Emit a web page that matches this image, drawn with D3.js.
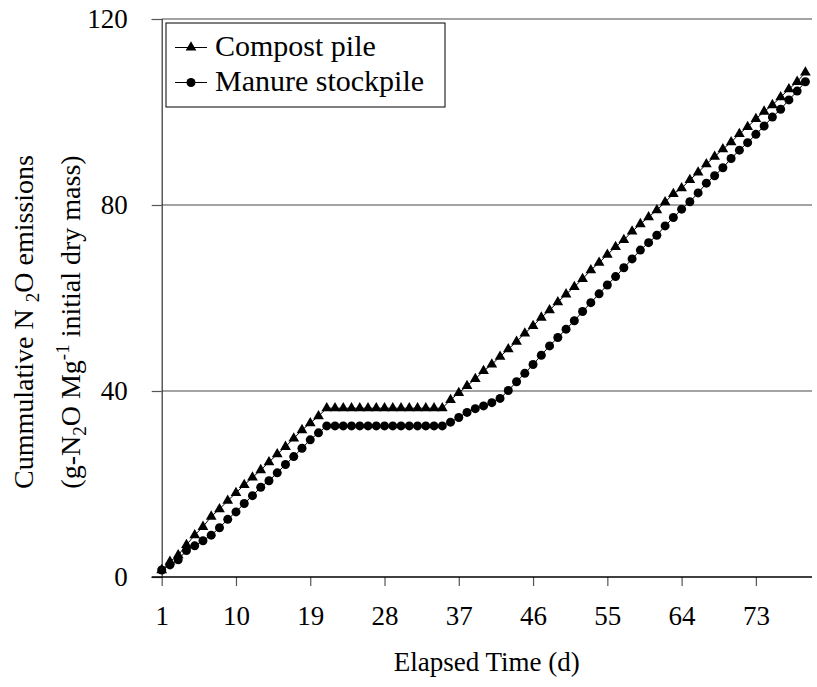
<!DOCTYPE html>
<html><head><meta charset="utf-8">
<script src="https://cdn.jsdelivr.net/npm/d3@7"></script>
</head><body style="margin:0;background:#fff"><svg id="c" width="817" height="687" font-family="Liberation Serif"></svg>
<script>
const days = d3.range(1, 80);
const compost = [1.5,3.3,4.7,6.9,9.0,10.8,13.0,14.6,16.4,18.1,19.8,21.4,23.0,24.7,26.4,28.0,29.8,31.6,33.1,34.6,
 36.3,36.3,36.3,36.3,36.3,36.3,36.3,36.3,36.3,36.3,36.3,36.3,36.3,36.3,36.3,
 38.1,39.6,41.1,42.6,44.3,45.7,47.4,49.0,50.6,52.4,54.0,55.8,57.4,59.1,60.8,62.4,64.1,66.0,67.6,69.3,
 71.0,72.5,74.3,75.9,77.4,78.9,80.6,82.4,83.6,85.4,87.0,88.8,90.4,92.0,93.5,95.3,96.8,98.5,100.1,101.5,103.2,104.9,106.5,108.5];
const manure = [1.5,2.6,3.7,5.7,6.7,7.8,9.0,10.6,12.4,14.0,15.8,17.5,19.3,20.7,22.4,24.2,25.9,27.7,29.5,31.0,
 32.5,32.5,32.5,32.5,32.5,32.5,32.5,32.5,32.5,32.5,32.5,32.5,32.5,32.5,32.5,
 33.3,34.3,35.4,36.2,36.8,37.5,38.4,40.1,42.0,43.8,45.7,47.7,49.7,51.5,53.3,55.1,57.1,59.0,60.9,62.8,
 64.6,66.5,68.4,70.3,71.9,73.5,75.5,77.3,79.1,80.7,82.6,84.7,86.3,88.0,90.0,91.8,93.4,95.2,97.0,98.9,100.6,102.6,104.5,106.5];
const xTicks = [1,10,19,28,37,46,55,64,73];
const yTicks = [0,40,80,120];
const seriesNames = ["Compost pile","Manure stockpile"];

const FF = "Liberation Serif";
const svg = d3.select("#c");
const L = 161.7, R = 812, T = 19, B = 577;
const x = d3.scaleLinear().domain([1, 79.8]).range([L, R]);
const y = d3.scaleLinear().domain([0, 120]).range([B, T]);

svg.append("g").selectAll("line").data(yTicks.filter(v => v > 0)).join("line")
  .attr("x1", L).attr("x2", R).attr("y1", d => y(d)).attr("y2", d => y(d))
  .attr("stroke", "#858585").attr("stroke-width", 1.3);

const yAxis = svg.append("g").attr("transform", `translate(${L},0)`)
  .call(d3.axisLeft(y).tickValues(yTicks).tickSize(10).tickPadding(24));
yAxis.attr("font-family", FF);
yAxis.select(".domain").attr("stroke", "#333").attr("stroke-width", 1.2);
yAxis.selectAll(".tick line").attr("stroke", "#555").attr("stroke-width", 1.2);
yAxis.selectAll("text").attr("font-size", 27).attr("font-family", FF).attr("fill", "#000");

const xAxis = svg.append("g").attr("transform", `translate(0,${B})`)
  .call(d3.axisBottom(x).tickValues(xTicks).tickSize(9).tickPadding(20).tickFormat(d3.format("d")));
xAxis.attr("font-family", FF);
xAxis.select(".domain").remove();
xAxis.append("line").attr("x1", L - 10).attr("x2", R).attr("stroke", "#000").attr("stroke-width", 1.4);
xAxis.selectAll(".tick line").attr("stroke", "#555").attr("stroke-width", 1.2);
xAxis.selectAll("text").attr("font-size", 27).attr("font-family", FF).attr("fill", "#000");

const line = d3.line().x((d, i) => x(days[i])).y(d => y(d));
[compost, manure].forEach(s => {
  svg.append("path").datum(s).attr("d", line).attr("fill", "none").attr("stroke", "#000").attr("stroke-width", 1);
});
const tri = d3.symbol().type(d3.symbolTriangle).size(50);
svg.append("g").selectAll("path").data(compost).join("path")
  .attr("d", tri).attr("transform", (d, i) => `translate(${x(days[i])},${y(d)})`).attr("fill", "#000");
svg.append("g").selectAll("circle").data(manure).join("circle")
  .attr("cx", (d, i) => x(days[i])).attr("cy", d => y(d)).attr("r", 4.5).attr("fill", "#000");

const lg = svg.append("g");
lg.append("rect").attr("x", 166).attr("y", 23).attr("width", 279).attr("height", 84)
  .attr("fill", "#fff").attr("stroke", "#000").attr("stroke-width", 1);
seriesNames.forEach((n, i) => {
  const yy = i === 0 ? 47.5 : 82.5;
  lg.append("line").attr("x1", 175).attr("x2", 207).attr("y1", yy).attr("y2", yy).attr("stroke", "#000");
  if (i === 0) lg.append("path").attr("d", tri).attr("transform", `translate(191,${yy})`);
  else lg.append("circle").attr("cx", 191).attr("cy", yy).attr("r", 4.5);
  lg.append("text").attr("x", 215).attr("y", yy + 8.5).attr("font-size", 30).attr("font-family", FF).text(n);
});

svg.append("text").attr("x", (L + R) / 2).attr("y", 671).attr("text-anchor", "middle")
  .attr("font-size", 27).attr("font-family", FF).text("Elapsed Time (d)");

const yt = svg.append("g").attr("transform", "translate(0,322) rotate(-90)");
const t1 = yt.append("text").attr("x", 0).attr("y", 33).attr("text-anchor", "middle").attr("font-size", 28).attr("font-family", FF);
t1.append("tspan").text("Cummulative N ");
t1.append("tspan").attr("dy", 6).attr("font-size", 19).text("2");
t1.append("tspan").attr("dy", -6).text("O emissions");
const t2 = yt.append("text").attr("x", 0).attr("y", 80).attr("text-anchor", "middle").attr("font-size", 28).attr("font-family", FF);
t2.append("tspan").text("(g-N");
t2.append("tspan").attr("dy", 6).attr("font-size", 19).text("2");
t2.append("tspan").attr("dy", -6).text("O Mg");
t2.append("tspan").attr("dy", -11).attr("font-size", 19).text("-1");
t2.append("tspan").attr("dy", 11).text(" initial dry mass)");
</script></body></html>
